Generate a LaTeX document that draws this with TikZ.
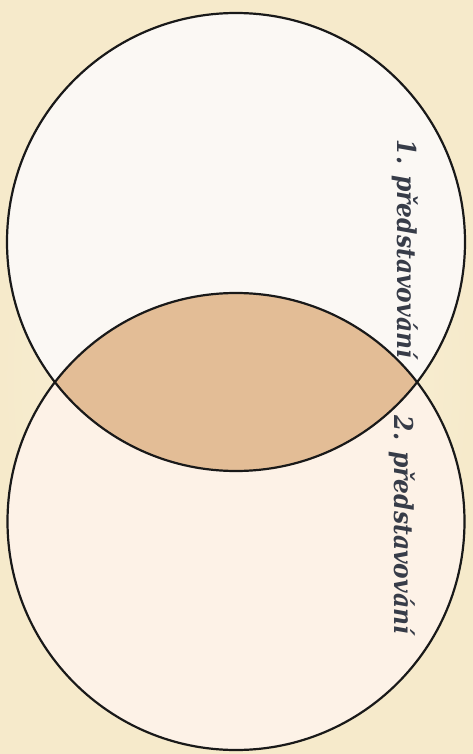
\documentclass[tikz,border=0pt]{standalone}
\usepackage{fontspec}
\setmainfont{DejaVu Serif}
\newfontfamily\lblfont{DejaVu Serif Condensed}
\definecolor{bgin}{HTML}{FAF3DC}
\definecolor{bgout}{HTML}{F6EACB}
\definecolor{topfill}{HTML}{FBF8F4}
\definecolor{botfill}{HTML}{FDF2E7}
\definecolor{midfill}{HTML}{E3BD96}
\definecolor{txtc}{HTML}{373C48}
\begin{document}
\begin{tikzpicture}[x=1pt,y=-1pt,
  ring/.style={draw=black!90, line width=2.2pt},
  lbl/.style={font=\lblfont\bfseries\itshape\fontsize{26}{26}\selectfont, text=txtc, rotate=-90, inner sep=0pt}]
\useasboundingbox (0,0) rectangle (473,754);
\shade[inner color=bgin, outer color=bgout] (0,0) rectangle (473,754);
\coordinate (ctop) at (236,242);
\coordinate (cbot) at (236,521.5);
\fill[topfill] (ctop) circle[radius=229];
\fill[botfill] (cbot) circle[radius=228.5];
\begin{scope}
  \clip (ctop) circle[radius=229];
  \fill[midfill] (cbot) circle[radius=228.5];
\end{scope}
\draw[ring] (ctop) circle[radius=229];
\draw[ring] (cbot) circle[radius=228.5];
\node[lbl] (t1) at (405,249) {1. představování};
\node[lbl] (t2) at (402,525) {2. představování};
\end{tikzpicture}
\end{document}
